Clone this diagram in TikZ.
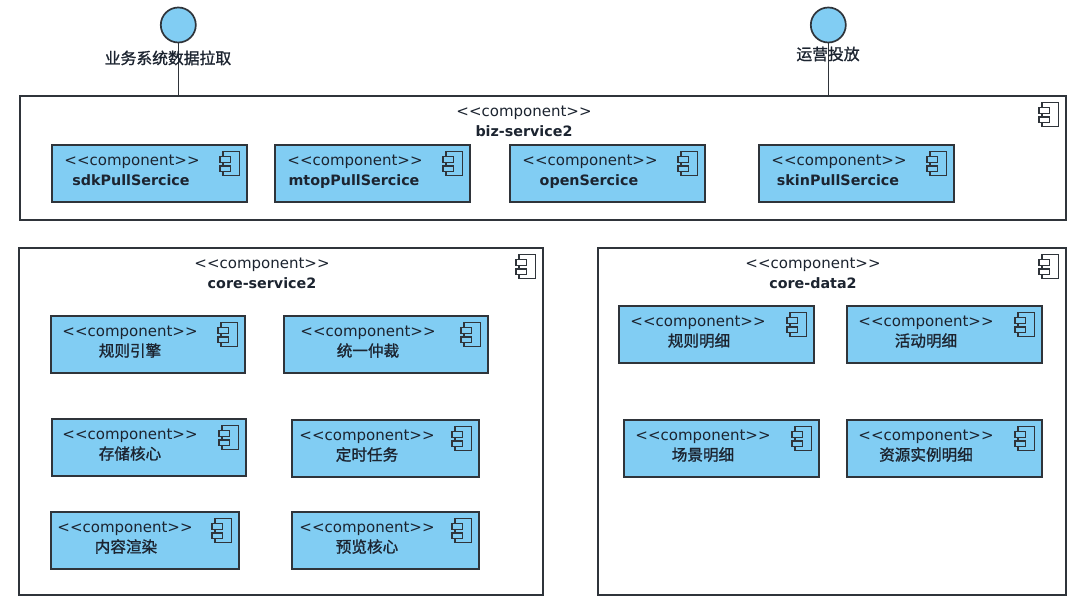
\documentclass[tikz,border=0pt]{standalone}
\usepackage{fontspec}
\setmainfont{DejaVu Sans}
\newfontfamily\cjk[FakeBold=1.2]{Noto Sans CJK SC}
\definecolor{linec}{HTML}{2F343A}
\definecolor{boxfill}{HTML}{81CDF3}
\definecolor{txt}{HTML}{1C2430}
\tikzset{
  frame/.style={draw=linec,line width=1.7pt,fill=white,anchor=north west,inner sep=0pt,outer sep=0pt},
  comp/.style={draw=linec,line width=1.8pt,fill=boxfill,anchor=north west,inner sep=0pt,outer sep=0pt},
  frametab/.style={fill=white},
  comptab/.style={fill=boxfill},
  stereo/.style={anchor=base,inner sep=0pt,text=txt,font=\fontsize{15}{16}\selectfont},
  bname/.style={anchor=base,inner sep=0pt,text=txt,font=\fontsize{14.3}{16}\selectfont\bfseries},
  cname/.style={anchor=base,inner sep=0pt,text=txt,font=\fontsize{15.6}{18}\selectfont\cjk},
  lbl/.style={anchor=base,inner sep=0pt,text=txt,font=\fontsize{15.8}{18}\selectfont\cjk},
  iface/.style={circle,draw=linec,line width=1.7pt,fill=boxfill,minimum size=35pt,inner sep=0pt,outer sep=0pt},
  conn/.style={draw=linec,line width=1.6pt},
  icon/.style={draw=linec,line width=1.5pt}
}
% box: name, x1, y1, x2, y2, style
\newcommand{\ubox}[6]{\node[#6,minimum width=#4pt-#2pt,minimum height=#5pt-#3pt] (#1) at (#2,#3) {};
  \draw[icon] ([xshift=-24pt,yshift=-6.7pt]#1.north east) rectangle ([xshift=-7.5pt,yshift=-30.5pt]#1.north east);
  \draw[icon,#6tab] ([xshift=-27pt,yshift=-11.7pt]#1.north east) rectangle ([xshift=-16.5pt,yshift=-17.3pt]#1.north east);
  \draw[icon,#6tab] ([xshift=-27pt,yshift=-21pt]#1.north east) rectangle ([xshift=-16.5pt,yshift=-26.7pt]#1.north east);}
\begin{document}
\begin{tikzpicture}[x=1pt,y=-1pt]
\useasboundingbox (0,0) rectangle (1080,607);
\fill[white] (0,0) rectangle (1080,607);
\node[iface] (c1) at (178.3,25) {};
\node[iface] (c2) at (828.3,25) {};
\ubox{biz}{20}{96}{1066}{220}{frame}
\ubox{core}{19}{248}{543}{595}{frame}
\ubox{data}{598}{248}{1066}{595}{frame}
\draw[conn] (c1.south) -- (c1.south |- biz.north);
\draw[conn] (c2.south) -- (c2.south |- biz.north);
\node[lbl] (l1) at (168,64) {业务系统数据拉取};
\node[lbl] (l2) at (828,60) {运营投放};
\node[stereo] (biza) at (524,116.5) {<{}<component>{}>};
\node[bname] (bizb) at (524,136.3) {biz-service2};
\node[stereo] (corea) at (262,268.5) {<{}<component>{}>};
\node[bname] (coreb) at (262,288.3) {core-service2};
\node[stereo] (dataa) at (813,268.5) {<{}<component>{}>};
\node[bname] (datab) at (813,288.3) {core-data2};
% name, x1,y1,x2,y2, stereotype x, name x, name style, text
\foreach \n/\xa/\ya/\xb/\yb/\sx/\nx/\st/\t in {
 sdk/52/145/247/202/132/131/bname/sdkPullSercice,
 mtop/275/145/470/202/355/354/bname/mtopPullSercice,
 open/510/145/705/202/590/589/bname/openSercice,
 skin/759/145/954/202/839/838/bname/skinPullSercice,
 gz/51/316/245/373/130/130/cname/规则引擎,
 zc/284/316/488/373/368/368/cname/统一仲裁,
 cc/52/419/246/476/130/130/cname/存储核心,
 ds/292/420/479/477/367/367/cname/定时任务,
 nr/51/512/239/569/125/126/cname/内容渲染,
 yl/292/512/479/569/367/367/cname/预览核心,
 gm/619/306/814/363/698/699/cname/规则明细,
 hd/847/306/1042/363/926/926/cname/活动明细,
 cj/624/420/819/477/703/703/cname/场景明细,
 zy/847/420/1042/477/926/926/cname/资源实例明细}{
 \ubox{\n}{\xa}{\ya}{\xb}{\yb}{comp}
 \node[stereo] (\n a) at (\sx,\ya+20.5) {<{}<component>{}>};
 \node[\st] (\n b) at (\nx,\ya+40.5) {\t};
}
\end{tikzpicture}
\end{document}
